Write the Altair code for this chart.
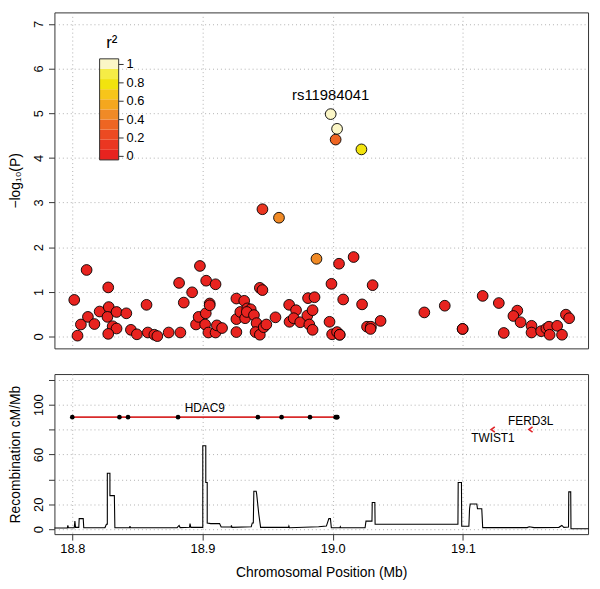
import altair as alt
import pandas as pd

# ---------------- association data (position in Mb, -log10 P, r2) ----------------
snp_pos = [18.8015, 18.8040, 18.8110, 18.8066, 18.8120, 18.8170, 18.8210, 18.8276, 18.8280, 18.8270,
           18.8340, 18.8310, 18.8340, 18.8276, 18.8415, 18.8450, 18.8496, 18.8570, 18.8580, 18.8630,
           18.8653, 18.8740, 18.8830, 18.8820, 18.8856, 18.8920, 18.8980, 18.9028, 18.9100, 18.8950,
           18.8970, 18.9025, 18.9020, 18.9055, 18.9055, 18.9045, 18.9100, 18.9110, 18.9150, 18.9260,
           18.9260, 18.9260, 18.9320, 18.9290, 18.9327, 18.9344, 18.9370, 18.9340, 18.9395, 18.9415,
           18.9407, 18.9440, 18.9470, 18.9490, 18.9440, 18.9460, 18.9460, 18.9560, 18.9665, 18.9718,
           18.9668, 18.9700, 18.9750, 18.9805, 18.9810, 18.9820, 18.9845, 18.9845, 18.9860, 19.0048,
           19.0160, 18.9990, 19.0080, 19.0306, 19.0225, 18.9975, 18.9995, 19.0033, 19.0053, 19.0053,
           19.0263, 19.0293, 19.0290, 19.0367, 19.0703, 19.0860, 19.0997, 19.0997, 19.1151, 19.1275,
           19.1313, 19.1417, 19.1387, 19.1442, 19.1526, 19.1526, 19.1600, 19.1640, 19.1660, 19.1665,
           19.1723, 19.1760, 19.1790, 19.1815,
           18.9587, 18.9875, 19.0022, 19.0220, 19.0033, 18.9984]
snp_logp = [0.82, 0.02, 1.49, 0.27, 0.44, 0.28, 0.56, 1.10, 0.66, 0.44,
            0.55, 0.23, 0.18, 0.06, 0.52, 0.15, 0.05, 0.71, 0.09, 0.04,
            0.01, 0.09, 0.09, 1.20, 0.76, 0.99, 1.58, 1.25, 1.17, 0.27,
            0.44, 0.52, 0.27, 0.74, 0.70, 0.09, 0.09, 0.25, 0.19, 0.10,
            0.39, 0.85, 0.80, 0.55, 0.41, 0.63, 0.61, 0.55, 0.48, 0.30,
            0.10, 0.04, 0.21, 0.27, 1.09, 1.04, 2.85, 0.43, 0.71, 0.59,
            0.33, 0.41, 0.32, 0.47, 0.86, 0.27, 0.15, 0.59, 0.88, 1.63,
            1.78, 1.18, 0.83, 1.15, 0.72, 0.33, 0.05, 0.10, 0.04, 0.04,
            0.22, 0.22, 0.17, 0.35, 0.54, 0.69, 0.17, 0.17, 0.91, 0.75,
            0.08, 0.58, 0.46, 0.32, 0.24, 0.09, 0.12, 0.18, 0.22, 0.04,
            0.24, 0.04, 0.49, 0.41,
            2.66, 1.74, 4.41, 4.19, 4.65, 4.98]
snp_r2 = [0.05] * 56 + [0.12] + [0.05] * 47 + [0.45, 0.45, 0.35, 0.75, 0.95, 1.0]

lead_snp = "rs11984041"
lead_pos = 18.9984
lead_logp = 4.98

# ---------------- recombination rate (Mb, cM/Mb) ----------------
recomb_pos = [18.7863, 18.7962, 18.7966, 18.7970, 18.8015, 18.8020, 18.8025, 18.8050, 18.8053, 18.8084,
              18.8088, 18.8251, 18.8262, 18.8269, 18.8269, 18.8289, 18.8289, 18.8323, 18.8327, 18.8440,
              18.8443, 18.8446, 18.8805, 18.8820, 18.8828, 18.8900, 18.8904, 18.8910, 18.9002, 18.9002,
              18.9025, 18.9025, 18.9036, 18.9036, 18.9063, 18.9131, 18.9143, 18.9220, 18.9222, 18.9226,
              18.9374, 18.9382, 18.9390, 18.9394, 18.9412, 18.9416, 18.9432, 18.9446, 18.9660, 18.9663,
              18.9667, 18.9891, 18.9951, 18.9970, 18.9982, 18.9989, 19.0055, 19.0058, 19.0061, 19.0248,
              19.0255, 19.0301, 19.0303, 19.0323, 19.0325, 19.0961, 19.0963, 19.0988, 19.0990, 19.1045,
              19.1050, 19.1055, 19.1106, 19.1111, 19.1144, 19.1151, 19.1493, 19.1508, 19.1546, 19.1736,
              19.1759, 19.1774, 19.1810, 19.1812, 19.1827, 19.1829, 19.1964]
recomb_rate = [1.0, 1.0, 3.0, 1.2, 1.2, 6.5, 1.5, 1.5, 8.5, 8.5,
               1.2, 1.3, 4.0, 4.0, 45.0, 45.0, 27.0, 27.0, 1.2, 1.2,
               2.5, 1.2, 1.3, 3.0, 1.3, 1.5, 4.5, 1.5, 1.5, 67.0,
               67.0, 37.5, 37.5, 5.0, 4.5, 4.5, 1.8, 1.8, 3.0, 1.5,
               2.0, 5.0, 5.0, 30.5, 30.5, 28.0, 12.0, 1.5, 1.5, 2.5,
               1.2, 2.0, 2.5, 8.5, 8.5, 1.2, 1.2, 2.0, 1.2, 1.2,
               6.5, 6.5, 21.5, 21.5, 4.0, 4.0, 37.5, 37.5, 2.4, 2.4,
               16.0, 20.3, 20.3, 16.4, 16.4, 1.3, 1.3, 2.0, 1.3, 1.5,
               3.0, 1.5, 1.8, 30.0, 30.0, 0.3, 0.3]

# ---------------- genes ----------------
gene_name = ["HDAC9", "TWIST1", "FERD3L"]
gene_start = [18.8000, 19.1225, 19.1515]
gene_end = [19.0035, 19.1235, 19.1525]
gene_row = [90, 80, 80]
gene_label_side = ["above", "below", "above"]
exon_pos = [18.8000, 18.8362, 18.8428, 18.8812, 18.9425, 18.9607, 18.9825, 19.0022, 19.0030, 19.0035]
exon_row = [90] * len(exon_pos)
arrow_gene = ["TWIST1", "FERD3L"]
arrow_pos = [19.1230, 19.1520]
arrow_row = [80, 80]

# ---------------- r2 colour key ----------------
r2_breaks = [0.1, 0.2, 0.3, 0.4, 0.5, 0.6, 0.7, 0.8, 0.9]
r2_colors = ["#E8231F", "#EA3621", "#EC4A22", "#EE6522", "#F08A26",
             "#F4A71E", "#F7C51A", "#F2E30E", "#F5EC46", "#FBF6C6"]
r2_bin_lo = [0.0, 0.1, 0.2, 0.3, 0.4, 0.5, 0.6, 0.7, 0.8, 0.9]
r2_bin_hi = [0.1, 0.2, 0.3, 0.4, 0.5, 0.6, 0.7, 0.8, 0.9, 1.0]
r2_tick_values = [0, 0.2, 0.4, 0.6, 0.8, 1]
r2_tick_labels = ["0", "0.2", "0.4", "0.6", "0.8", "1"]

FONT = "Liberation Sans"
X_DOMAIN = [18.7863, 19.1960]
TOP_Y_DOMAIN = [-0.265, 7.257]
BOT_Y_DOMAIN = [-3.97, 124.6]
W = 540
H_TOP = 340
H_BOT = 162

snp_df = pd.DataFrame({"pos": snp_pos, "logp": snp_logp, "r2": snp_r2})
snp_df["idx"] = range(len(snp_df))
recomb_df = pd.DataFrame({"pos": recomb_pos, "rate": recomb_rate})
recomb_df["idx"] = range(len(recomb_df))
gene_df = pd.DataFrame({"name": gene_name, "start": gene_start, "end": gene_end,
                        "row": gene_row, "side": gene_label_side})
gene_df["mid"] = (gene_df["start"] + gene_df["end"]) / 2
exon_df = pd.DataFrame({"pos": exon_pos, "row": exon_row})
arrow_df = pd.DataFrame({"name": arrow_gene, "pos": arrow_pos, "row": arrow_row})
legend_df = pd.DataFrame({"lo": r2_bin_lo, "hi": r2_bin_hi, "color": r2_colors})
legend_tick_df = pd.DataFrame({"v": r2_tick_values, "label": r2_tick_labels})
lead_df = pd.DataFrame({"pos": [lead_pos], "logp": [lead_logp], "label": [lead_snp]})

grid_kw = dict(grid=True, gridColor="#b0b0b0", gridDash=[1, 3], gridWidth=1, gridOpacity=1,
               labelOverlap=False)

# ---------------- top panel ----------------
x_top_scale = alt.Scale(domain=X_DOMAIN, nice=False, zero=False)
x_top_axis = alt.Axis(values=[18.8, 18.9, 19.0, 19.1], labels=False, ticks=False,
                      domain=False, title=None, **grid_kw)
y_top_scale = alt.Scale(domain=TOP_Y_DOMAIN, nice=False, zero=False)
y_top_axis = alt.Axis(values=list(range(8)), title="\u2212log\u2081\u2080(P)",
                      labelAngle=270, labelAlign="center", labelBaseline="bottom",
                      labelPadding=3, titlePadding=10, **grid_kw)

points = alt.Chart(snp_df).mark_circle(size=118, opacity=1, stroke="black",
                                       strokeWidth=0.9).encode(
    x=alt.X("pos:Q", scale=x_top_scale, axis=x_top_axis),
    y=alt.Y("logp:Q", scale=y_top_scale, axis=y_top_axis),
    fill=alt.Fill("r2:Q", scale=alt.Scale(type="threshold", domain=r2_breaks, range=r2_colors),
                  legend=None),
    order=alt.Order("idx:Q"),
)

lead_label = alt.Chart(lead_df).mark_text(font=FONT, fontSize=15, dy=-19,
                                          baseline="middle", align="center").encode(
    x=alt.X("pos:Q", scale=x_top_scale, axis=x_top_axis),
    y=alt.Y("logp:Q", scale=y_top_scale, axis=None),
    text="label:N",
)

leg_rect_scale = alt.Scale(domain=[0, 1], range=[149.3, 47], nice=False, zero=False)
leg_tick_scale = alt.Scale(domain=[0, 1], range=[145.7, 52.7], nice=False, zero=False)

legend_rects = alt.Chart(legend_df).mark_rect().encode(
    x=alt.value(45.7), x2=alt.value(65),
    y=alt.Y("lo:Q", scale=leg_rect_scale, axis=None), y2="hi:Q",
    fill=alt.Fill("color:N", scale=None),
)
legend_box = alt.Chart(pd.DataFrame({"lo": [0.0], "hi": [1.0]})).mark_rect(
    fill=None, stroke="#333333", strokeWidth=1).encode(
    x=alt.value(45.7), x2=alt.value(65),
    y=alt.Y("lo:Q", scale=leg_rect_scale, axis=None), y2="hi:Q",
)
legend_ticks = alt.Chart(legend_tick_df).mark_rule(color="#333333").encode(
    x=alt.value(65), x2=alt.value(70),
    y=alt.Y("v:Q", scale=leg_tick_scale, axis=None),
)
legend_labels = alt.Chart(legend_tick_df).mark_text(font=FONT, fontSize=13, align="left",
                                                    baseline="middle").encode(
    x=alt.value(73),
    y=alt.Y("v:Q", scale=leg_tick_scale, axis=None),
    text="label:N",
)
legend_title = alt.Chart(pd.DataFrame({"t": ["r\u00b2"]})).mark_text(
    font=FONT, fontSize=17, align="center", baseline="middle").encode(
    x=alt.value(58), y=alt.value(31), text="t:N")

top = alt.layer(points, lead_label, legend_rects, legend_box, legend_ticks, legend_labels,
                legend_title).resolve_scale(y="independent").properties(width=W, height=H_TOP)

# ---------------- bottom panel ----------------
x_bot_scale = alt.Scale(domain=X_DOMAIN, nice=False, zero=False)
y_bot_scale = alt.Scale(domain=BOT_Y_DOMAIN, nice=False, zero=False)
x_bot_axis = alt.Axis(values=[18.8, 18.9, 19.0, 19.1], format=".1f",
                      title="Chromosomal Position (Mb)", labelPadding=3,
                      titlePadding=10, **grid_kw)
y_bot_axis = alt.Axis(values=[0, 20, 40, 60, 80, 100, 120],
                      labelExpr="(datum.value == 40 || datum.value == 80 || datum.value == 120) ? '' : datum.label",
                      title="Recombination cM/Mb", labelAngle=270, labelAlign="center",
                      labelBaseline="bottom", labelPadding=3, titlePadding=10, **grid_kw)


def bx(field):
    return alt.X(field, type="quantitative", scale=x_bot_scale, axis=x_bot_axis)


def by(field):
    return alt.Y(field, type="quantitative", scale=y_bot_scale, axis=y_bot_axis)


recomb = alt.Chart(recomb_df).mark_line(color="black", strokeWidth=1.1).encode(
    x=bx("pos"), y=by("rate"), order=alt.Order("idx:Q"))

gene_lines = alt.Chart(gene_df[gene_df["name"] == "HDAC9"]).mark_rule(
    color="#D92B2B", strokeWidth=1.6).encode(
    x=bx("start"), x2="end", y=by("row"))

exons = alt.Chart(exon_df).mark_circle(color="black", size=22, opacity=1).encode(
    x=bx("pos"), y=by("row"))

arrows = alt.Chart(arrow_df).mark_point(
    shape="M 0.7 -1 L -0.7 0 L 0.7 1", filled=False, color="#E0262A",
    strokeWidth=1.6, size=28, opacity=1).encode(
    x=bx("pos"), y=by("row"))

labels_above = alt.Chart(gene_df[gene_df["side"] == "above"]).mark_text(
    font=FONT, fontSize=12, dy=-9, baseline="middle", align="center").encode(
    x=bx("mid"), y=by("row"), text="name:N")
labels_below = alt.Chart(gene_df[gene_df["side"] == "below"]).mark_text(
    font=FONT, fontSize=12, dy=9, baseline="middle", align="center").encode(
    x=bx("mid"), y=by("row"), text="name:N")

bottom = alt.layer(recomb, gene_lines, exons, arrows, labels_above, labels_below).properties(
    width=W, height=H_BOT)

chart = alt.vconcat(top, bottom, spacing=24).properties(
    padding={"left": 0, "top": 0, "right": 0, "bottom": 0}
).configure_axis(
    labelFont=FONT, titleFont=FONT, labelFontSize=13, titleFontSize=14,
    titleFontWeight="normal", labelColor="black", titleColor="black",
    tickColor="#333333", tickSize=6, domain=False,
).configure_view(stroke="#333333", strokeWidth=1).configure_text(font=FONT)

chart.save("out.html", embed_options={"renderer": "svg", "actions": False})
